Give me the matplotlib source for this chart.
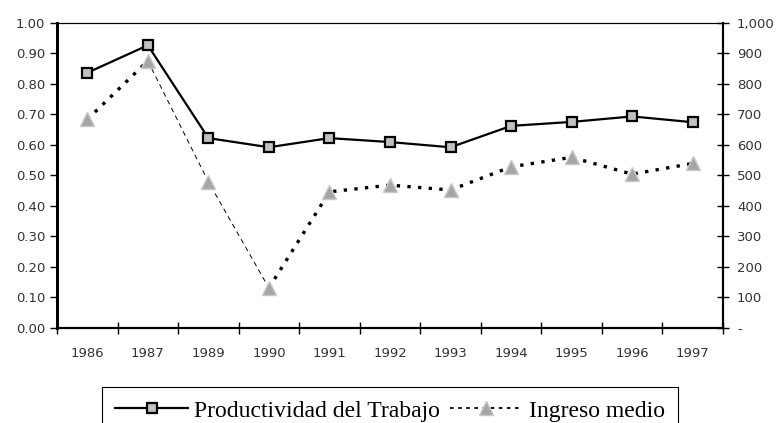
import matplotlib.pyplot as plt
import numpy as np

# data
years = ['1986', '1987', '1989', '1990', '1991', '1992', '1993', '1994', '1995', '1996', '1997']
productividad = [0.836, 0.926, 0.622, 0.592, 0.622, 0.609, 0.592, 0.662, 0.675, 0.693, 0.674]
ingreso = [683, 875, 479, 131, 446, 468, 452, 528, 559, 504, 539]

left_ticks = [0.0, 0.1, 0.2, 0.3, 0.4, 0.5, 0.6, 0.7, 0.8, 0.9, 1.0]
right_ticks = [0, 100, 200, 300, 400, 500, 600, 700, 800, 900, 1000]
right_labels = ['-', '100', '200', '300', '400', '500', '600', '700', '800', '900', '1,000']

x = np.arange(len(years))

fig = plt.figure(figsize=(7.83, 4.23), dpi=100)
ax = fig.add_axes([57/783, 1-328/423, (723-57)/783, (328-22.7)/423])
ax2 = ax.twinx()

# Ingreso medio: thick dotted except the thin dashed stretch 1987-1990
tri_gray = '#a6a6a6'
ax2.plot(x[:2], ingreso[:2], color='black', lw=2.4, ls=(0, (1.0, 2.2)), zorder=2)
ax2.plot(x[1:4], ingreso[1:4], color='black', lw=0.7, ls=(0, (5, 4)), zorder=2)
ax2.plot(x[3:], ingreso[3:], color='black', lw=2.4, ls=(0, (1.0, 2.2)), zorder=2)
ax2.plot(x, ingreso, ls='none', marker='^', ms=9.5, mfc=tri_gray, mec='#c8c8c8', mew=1, zorder=3)

# productividad on the left axis, drawn on top
ax.set_zorder(ax2.get_zorder() + 1)
ax.patch.set_visible(False)
ax.plot(x, productividad, color='black', lw=1.6, marker='s', ms=7.5,
        mfc='#c0c0c0', mec='black', mew=1.6)

ax.set_xlim(-0.5, len(years) - 0.5)
ax.set_ylim(0, 1)
ax2.set_ylim(0, 1000)

ax.set_yticks(left_ticks)
ax.set_yticklabels(['%.2f' % v for v in left_ticks])
ax2.set_yticks(right_ticks)
ax2.set_yticklabels(right_labels)

tick_col = '#333333'
ax.set_xticks(np.arange(-0.5, len(years), 1.0))
ax.set_xticklabels([])
ax.set_xticks(x, minor=True)
ax.set_xticklabels(years, minor=True)
ax.tick_params(axis='x', which='major', direction='inout', length=9, width=1)
ax.tick_params(axis='x', which='minor', length=0, pad=14, labelsize=9.5, labelcolor=tick_col)
ax.tick_params(axis='y', direction='out', length=5, width=1, labelsize=9.5, labelcolor=tick_col)
ax2.tick_params(axis='y', direction='inout', length=8, width=1, labelsize=9.5, labelcolor=tick_col, pad=6)

for a in (ax, ax2):
    a.spines['top'].set_linewidth(0.8)
    a.spines['bottom'].set_linewidth(1.5)
    a.spines['left'].set_linewidth(2)
    a.spines['right'].set_linewidth(1.5)

h1 = plt.Line2D([], [], color='black', lw=1.6, marker='s', ms=7.5, mfc='#c0c0c0', mec='black', mew=1.6)
h2 = plt.Line2D([], [], color='black', lw=1.3, ls=(0, (2, 2.5)), marker='^', ms=9.5, mfc=tri_gray, mec='#c8c8c8')
leg = fig.legend([h1, h2], ['Productividad del Trabajo', 'Ingreso medio'],
                 loc='upper center', bbox_to_anchor=(390/783, 1-387/423), ncol=2,
                 frameon=True, fancybox=False, framealpha=1, edgecolor='black',
                 prop={'family': 'Liberation Serif', 'size': 17},
                 handlelength=3.1, handletextpad=0.25, columnspacing=0.4, borderpad=0.55,
                 borderaxespad=0)
leg.get_frame().set_linewidth(0.8)

fig.savefig('out.png', dpi=100)
